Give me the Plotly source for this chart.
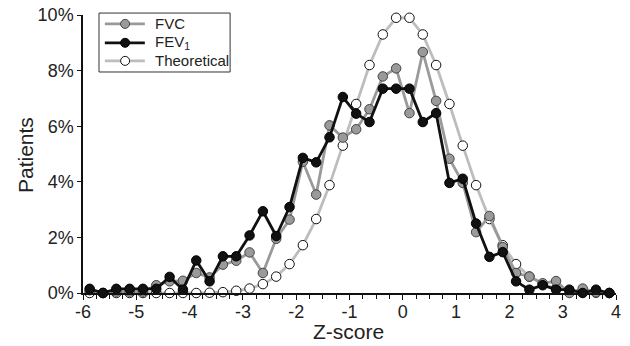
import plotly.graph_objects as go

z_centers = [-5.875 + 0.25 * i for i in range(40)]

fvc = [0.10, 0.00, 0.05, 0.05, 0.05, 0.28, 0.42, 0.44, 0.72, 0.56,
       1.02, 1.16, 1.46, 0.72, 1.95, 2.64, 4.72, 3.54, 6.03, 5.59,
       5.89, 6.61, 7.79, 8.08, 6.47, 8.67, 6.91, 4.83, 3.96, 2.19,
       2.77, 1.65, 0.72, 0.59, 0.35, 0.43, 0.00, 0.16, 0.03, 0.00]

fev1 = [0.15, 0.00, 0.15, 0.15, 0.15, 0.15, 0.58, 0.12, 1.17, 0.42,
        1.32, 1.32, 2.07, 2.94, 2.05, 3.09, 4.86, 4.70, 5.60, 7.05,
        6.45, 6.15, 7.35, 7.35, 7.35, 6.15, 6.47, 3.96, 4.11, 2.50,
        1.30, 1.47, 0.42, 0.12, 0.28, 0.12, 0.12, 0.00, 0.12, 0.00]

theoretical = [0.00, 0.00, 0.00, 0.00, 0.00, 0.00, 0.00, 0.00, 0.00, 0.01,
               0.03, 0.08, 0.16, 0.32, 0.59, 1.04, 1.72, 2.66, 3.88, 5.30,
               6.80, 8.20, 9.30, 9.90, 9.90, 9.30, 8.20, 6.80, 5.30, 3.88,
               2.66, 1.72, 1.04, 0.59, 0.32, 0.16, 0.08, 0.03, 0.01, 0.00]

x_ticks = [-6, -5, -4, -3, -2, -1, 0, 1, 2, 3, 4]
y_ticks = [0, 2, 4, 6, 8, 10]
y_ticklabels = ["0%", "2%", "4%", "6%", "8%", "10%"]

legend_names = ["FVC", "FEV<sub>1</sub>", "Theoretical"]
x_title = "Z-score"
y_title = "Patients"

FONT = "Liberation Sans, Arial, Helvetica, sans-serif"

styles = {
    "Theoretical": dict(line="#bdbdbd", fill="white", edge="#111111"),
    "FVC": dict(line="#9a9a9a", fill="#9a9a9a", edge="#444444"),
    "FEV<sub>1</sub>": dict(line="#111111", fill="#111111", edge="#000000"),
}

fig = go.Figure()

for name, ys in [("Theoretical", theoretical), ("FVC", fvc), ("FEV<sub>1</sub>", fev1)]:
    st = styles[name]
    fig.add_trace(go.Scatter(
        x=z_centers, y=ys, name=name, mode="lines+markers",
        line=dict(color=st["line"], width=2.8),
        marker=dict(symbol="circle", size=9.5, color=st["fill"],
                    line=dict(color=st["edge"], width=1)),
        cliponaxis=False, showlegend=False))

# custom legend (paper coordinates)
shapes = [dict(type="rect", xref="paper", yref="paper",
               x0=0.030, x1=0.276, y0=0.795, y1=1.007,
               line=dict(color="#333333", width=1), fillcolor="white", layer="above")]
annotations = []
rows_y = [0.968, 0.900, 0.835]
for name, ry in zip(legend_names, rows_y):
    st = styles[name]
    shapes.append(dict(type="line", xref="paper", yref="paper",
                       x0=0.041, x1=0.116, y0=ry, y1=ry,
                       line=dict(color=st["line"], width=2.8), layer="above"))
    shapes.append(dict(type="circle", xref="paper", yref="paper",
                       xsizemode="pixel", ysizemode="pixel",
                       xanchor=0.079, yanchor=ry,
                       x0=-4.5, x1=4.5, y0=-4.5, y1=4.5,
                       line=dict(color=st["edge"], width=1),
                       fillcolor=st["fill"], layer="above"))
    annotations.append(dict(xref="paper", yref="paper", x=0.132, y=ry,
                            xanchor="left", yanchor="middle", showarrow=False,
                            text=name, font=dict(family=FONT, size=15, color="#222222")))

# axis titles
annotations.append(dict(xref="paper", yref="paper", x=0.499, y=-0.137,
                        xanchor="center", yanchor="middle", showarrow=False,
                        text=x_title, font=dict(family=FONT, size=21, color="#222222")))
annotations.append(dict(xref="paper", yref="paper", x=-0.109, y=0.496,
                        xanchor="center", yanchor="middle", showarrow=False,
                        textangle=-90,
                        text=y_title, font=dict(family=FONT, size=21, color="#222222")))

fig.update_layout(
    width=630, height=346,
    margin=dict(l=83, r=14, t=15, b=53),
    paper_bgcolor="white", plot_bgcolor="white",
    font=dict(family=FONT, size=18, color="#222222"),
    showlegend=False,
    shapes=shapes, annotations=annotations,
    xaxis=dict(range=[-6, 4], tickmode="array", tickvals=x_ticks,
               ticktext=[str(v) for v in x_ticks],
               showline=True, linecolor="#111111", linewidth=1.5,
               ticks="outside", ticklen=5, tickwidth=1.2, tickcolor="#111111",
               minor=dict(dtick=0.25, ticks="outside", ticklen=4,
                          tickwidth=1.2, tickcolor="#111111"),
               showgrid=False, zeroline=False, automargin=False,
               ticklabelstandoff=-3,
               tickfont=dict(size=18)),
    yaxis=dict(range=[0, 10], tickmode="array", tickvals=y_ticks,
               ticktext=y_ticklabels,
               showline=True, linecolor="#111111", linewidth=1.5,
               ticks="outside", ticklen=4, tickwidth=1.2, tickcolor="#111111",
               showgrid=False, zeroline=False, automargin=False,
               tickfont=dict(size=18)),
)

fig.write_html("out.html",
               config={"displayModeBar": False},
               post_script="document.body.style.margin='0';document.body.style.padding='0';")
